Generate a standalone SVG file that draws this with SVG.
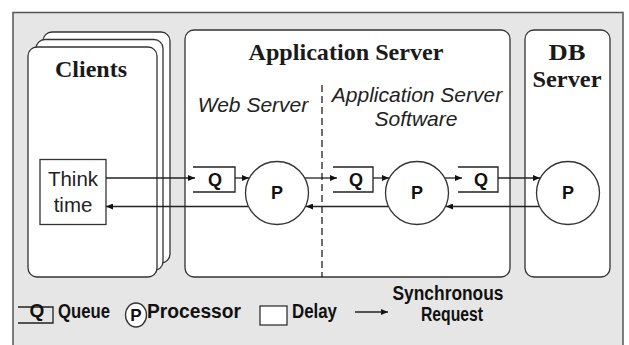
<svg xmlns="http://www.w3.org/2000/svg" width="629" height="345" viewBox="0 0 629 345">
  <defs>
    <marker id="arrow" markerWidth="7" markerHeight="6" refX="7" refY="3" orient="auto" markerUnits="userSpaceOnUse">
      <path d="M0,0 L7,3 L0,6 Z" fill="#111"/>
    </marker>
    <style>
      .frame { fill: #e6e6e6; stroke: #555; stroke-width: 1.5; }
      .box { fill: #fff; stroke: #333; stroke-width: 1.3; }
      .line { fill: none; stroke: #222; stroke-width: 1.3; }
      .conn { fill: none; stroke: #222; stroke-width: 1.3; marker-end: url(#arrow); }
      .title { font-family: "Liberation Serif", "Times New Roman", serif; font-weight: bold; font-size: 23px; fill: #1a1a1a; text-anchor: middle; }
      .ital { font-family: "Liberation Sans", Arial, sans-serif; font-style: italic; font-size: 21px; fill: #222; text-anchor: middle; }
      .plain { font-family: "Liberation Sans", Arial, sans-serif; font-size: 20.5px; fill: #222; text-anchor: middle; }
      .sym { font-family: "Liberation Sans", Arial, sans-serif; font-weight: bold; font-size: 18px; fill: #111; text-anchor: middle; }
      .leg { font-family: "Liberation Sans", Arial, sans-serif; font-weight: bold; font-size: 20px; fill: #111; }
    </style>
  </defs>

  <!-- outer frame -->
  <rect class="frame" x="13" y="12.5" width="610" height="345"/>

  <!-- clients: stacked cards -->
  <g id="clients">
    <rect class="box" x="43" y="32" width="127" height="231" rx="9"/>
    <rect class="box" x="36" y="39.5" width="127" height="231" rx="9"/>
    <rect class="box" x="28" y="47" width="129" height="230" rx="9"/>
    <text class="title" x="91" y="77" textLength="72" lengthAdjust="spacingAndGlyphs">Clients</text>
  </g>

  <g id="think-time">
    <rect x="40" y="159.5" width="66" height="65" fill="#fff" stroke="#333" stroke-width="1.3"/>
    <text class="plain" x="73" y="186">Think</text>
    <text class="plain" x="73" y="212">time</text>
  </g>

  <!-- application server container -->
  <g id="app-server">
    <rect class="box" x="185" y="30" width="325" height="247" rx="9"/>
    <text class="title" x="346" y="60" textLength="195" lengthAdjust="spacingAndGlyphs">Application Server</text>
    <line x1="322" y1="85" x2="322" y2="277" stroke="#222" stroke-width="1.3" stroke-dasharray="7,4"/>
    <text class="ital" x="253" y="112">Web Server</text>
    <text class="ital" x="417" y="102">Application Server</text>
    <text class="ital" x="416" y="126">Software</text>
  </g>

  <g id="db-server">
    <rect class="box" x="525" y="30" width="85" height="247" rx="9"/>
    <text class="title" x="567" y="60" textLength="37" lengthAdjust="spacingAndGlyphs">DB</text>
    <text class="title" x="567" y="87" textLength="69" lengthAdjust="spacingAndGlyphs">Server</text>
  </g>

  <!-- queues -->
  <g id="queue-web">
    <path class="line" d="M193,167 H235 V192 H193"/>
    <text class="sym" x="215" y="186">Q</text>
  </g>
  <g id="queue-app">
    <path class="line" d="M333,167 H373 V192 H333"/>
    <text class="sym" x="356" y="186">Q</text>
  </g>
  <g id="queue-db">
    <path class="line" d="M458,167 H498 V192 H458"/>
    <text class="sym" x="481" y="186">Q</text>
  </g>

  <!-- processors -->
  <g id="proc-web">
    <circle class="box" cx="277" cy="193" r="31.5"/>
    <text class="sym" x="277" y="199">P</text>
  </g>
  <g id="proc-app">
    <circle class="box" cx="417" cy="193" r="31.5"/>
    <text class="sym" x="417" y="199">P</text>
  </g>
  <g id="proc-db">
    <circle class="box" cx="568" cy="193" r="31.5"/>
    <text class="sym" x="568" y="199">P</text>
  </g>

  <!-- connectors -->
  <g id="connectors">
    <line class="conn" x1="106" y1="178" x2="195" y2="178"/>
    <line class="conn" x1="235" y1="178" x2="249" y2="178"/>
    <line class="conn" x1="305" y1="178" x2="337" y2="178"/>
    <line class="conn" x1="373" y1="178" x2="389" y2="178"/>
    <line class="conn" x1="445" y1="178" x2="462" y2="178"/>
    <line class="conn" x1="498" y1="178" x2="540" y2="178"/>
    <line class="conn" x1="539" y1="206.5" x2="446" y2="206.5"/>
    <line class="conn" x1="388" y1="206.5" x2="306" y2="206.5"/>
    <line class="conn" x1="248" y1="206.5" x2="106" y2="206.5"/>
  </g>

  <!-- legend -->
  <g id="legend">
    <path class="line" d="M18,307 H53 V323 H18"/>
    <text class="sym" x="37" y="317" style="font-size:19px">Q</text>
    <text class="leg" x="58" y="318" textLength="52" lengthAdjust="spacingAndGlyphs">Queue</text>
    <ellipse class="box" cx="136" cy="315" rx="10.5" ry="12"/>
    <text class="sym" x="136" y="321" style="font-size:17px">P</text>
    <text class="leg" x="147" y="318" textLength="94" lengthAdjust="spacingAndGlyphs">Processor</text>
    <rect x="260" y="306" width="27" height="19" fill="#fff" stroke="#333" stroke-width="1.3"/>
    <text class="leg" x="292" y="318" textLength="45" lengthAdjust="spacingAndGlyphs">Delay</text>
    <line class="conn" x1="355" y1="312" x2="388" y2="312"/>
    <text class="leg" x="448" y="300" text-anchor="middle" textLength="111" lengthAdjust="spacingAndGlyphs">Synchronous</text>
    <text class="leg" x="452" y="321" text-anchor="middle" textLength="62" lengthAdjust="spacingAndGlyphs">Request</text>
  </g>
</svg>
